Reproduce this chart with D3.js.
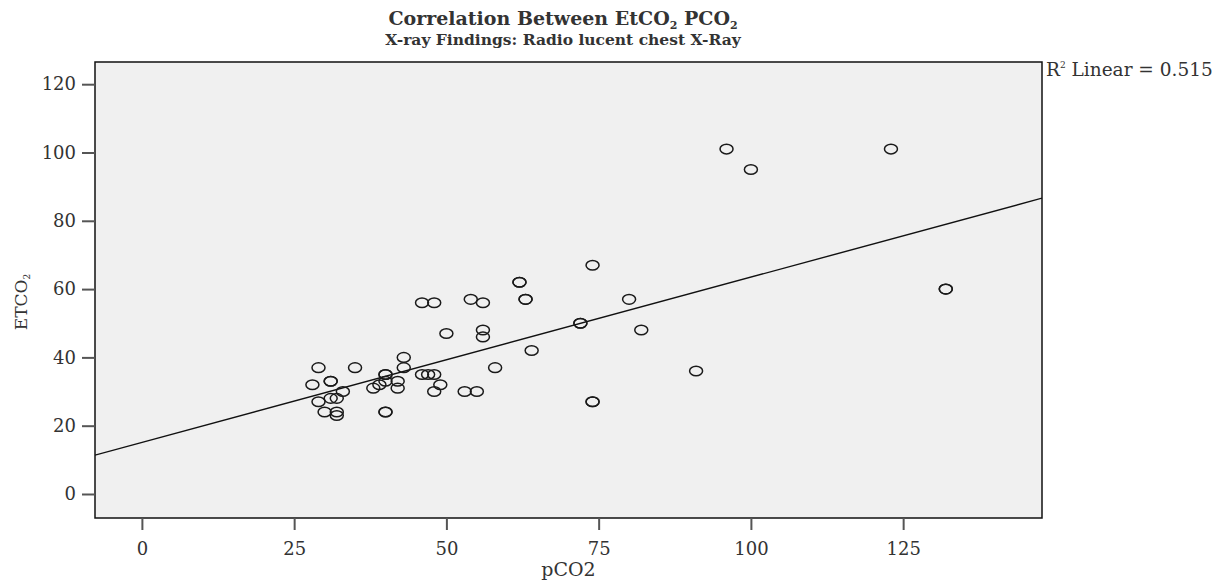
<!DOCTYPE html>
<html>
<head>
<meta charset="utf-8">
<script src="https://cdn.jsdelivr.net/npm/d3@7"></script>
<style>
  body { margin: 0; background: #fff; }
  svg text { font-family: "DejaVu Serif", "Liberation Serif", serif; fill: #333; }
</style>
</head>
<body>
<div id="chart"></div>
<script>
// values
const pco2 = [28, 29, 29, 30, 31, 31, 31, 32, 32, 32,
              33, 35, 38, 39, 40, 40, 40, 40, 40, 42,
              42, 43, 43, 46, 48, 46, 47, 48, 48, 49,
              50, 53, 55, 54, 56, 56, 56, 58, 62, 62,
              63, 63, 64, 72, 72, 74, 74, 74, 80, 82,
              91, 96, 100, 123, 132, 132];
const etco2 = [32, 37, 27, 24, 33, 33, 28, 28, 24, 23,
               30, 37, 31, 32, 33, 35, 35, 24, 24, 33,
               31, 40, 37, 56, 56, 35, 35, 35, 30, 32,
               47, 30, 30, 57, 56, 48, 46, 37, 62, 62,
               57, 57, 42, 50, 50, 67, 27, 27, 57, 48,
               36, 101, 95, 101, 60, 60];
const xTicks = [0, 25, 50, 75, 100, 125];
const yTicks = [0, 20, 40, 60, 80, 100, 120];
// fit line as drawn in the picture
const fitIntercept = 15.1;
const fitSlope = 0.484;
const rSquared = "0.515";

const width = 1228, height = 583;
const plot = {left: 95, right: 1042, top: 62, bottom: 518};

const svg = d3.select('#chart').append('svg')
  .attr('width', width)
  .attr('height', height);

const x = d3.scaleLinear().domain([-7.7, 147.8]).range([plot.left, plot.right]);
const y = d3.scaleLinear().domain([-7.03, 126.5]).range([plot.bottom, plot.top]);

// background
svg.append('rect')
  .attr('x', plot.left).attr('y', plot.top)
  .attr('width', plot.right - plot.left)
  .attr('height', plot.bottom - plot.top)
  .attr('fill', '#f0f0f0');

svg.append('clipPath').attr('id', 'clip')
  .append('rect')
  .attr('x', plot.left).attr('y', plot.top)
  .attr('width', plot.right - plot.left)
  .attr('height', plot.bottom - plot.top);

const fitX = x.domain();
svg.append('line')
  .attr('clip-path', 'url(#clip)')
  .attr('x1', x(fitX[0])).attr('y1', y(fitIntercept + fitSlope * fitX[0]))
  .attr('x2', x(fitX[1])).attr('y2', y(fitIntercept + fitSlope * fitX[1]))
  .attr('stroke', '#111')
  .attr('stroke-width', 1.4);

svg.append('g')
  .attr('clip-path', 'url(#clip)')
  .selectAll('ellipse')
  .data(pco2)
  .enter()
  .append('ellipse')
  .attr('cx', d => x(d))
  .attr('cy', (d, i) => y(etco2[i]))
  .attr('rx', 6.5)
  .attr('ry', 4.8)
  .attr('fill', 'none')
  .attr('stroke', '#1a1a1a')
  .attr('stroke-width', 1.5);

// frame
svg.append('rect')
  .attr('x', plot.left).attr('y', plot.top)
  .attr('width', plot.right - plot.left)
  .attr('height', plot.bottom - plot.top)
  .attr('fill', 'none')
  .attr('stroke', '#111')
  .attr('stroke-width', 1.5);

// axes
const yAxis = svg.append('g')
  .attr('transform', `translate(${plot.left},0)`)
  .call(d3.axisLeft(y).tickValues(yTicks).tickSize(13).tickPadding(6).tickFormat(d3.format('d')));
const xAxis = svg.append('g')
  .attr('transform', `translate(0,${plot.bottom})`)
  .call(d3.axisBottom(x).tickValues(xTicks).tickSize(12).tickPadding(12).tickFormat(d3.format('d')));

[yAxis, xAxis].forEach(a => {
  a.select('.domain').remove();
  a.selectAll('.tick line').attr('stroke', '#555').attr('stroke-width', 2);
  a.selectAll('.tick text').attr('font-size', 18).attr('fill', '#333')
    .attr('font-family', '"DejaVu Serif", serif');
});

// titles
const titleX = 563;
const title = svg.append('text')
  .attr('x', titleX)
  .attr('y', 25)
  .attr('text-anchor', 'middle')
  .attr('font-size', 19)
  .attr('font-weight', 'bold');
title.append('tspan').text('Correlation Between EtCO');
title.append('tspan').attr('font-size', 11).attr('dy', 4).text('2');
title.append('tspan').attr('dy', -4).text(' PCO');
title.append('tspan').attr('font-size', 11).attr('dy', 4).text('2');

svg.append('text')
  .attr('x', titleX)
  .attr('y', 45)
  .attr('text-anchor', 'middle')
  .attr('font-size', 15.5)
  .attr('font-weight', 'bold')
  .text('X-ray Findings: Radio lucent chest X-Ray');

svg.append('text')
  .attr('x', (plot.left + plot.right) / 2)
  .attr('y', 576)
  .attr('text-anchor', 'middle')
  .attr('font-size', 19)
  .text('pCO2');

const yTitle = svg.append('text')
  .attr('transform', `translate(27,${(plot.top + plot.bottom) / 2 + 12}) rotate(-90)`)
  .attr('text-anchor', 'middle')
  .attr('font-size', 17);
yTitle.append('tspan').text('ETCO');
yTitle.append('tspan').attr('font-size', 9).attr('dy', 3).text('2');

const r2 = svg.append('text')
  .attr('x', plot.right + 4)
  .attr('y', 76)
  .attr('font-size', 18.5);
r2.append('tspan').text('R');
r2.append('tspan').attr('font-size', 9).attr('dy', -8).text('2');
r2.append('tspan').attr('dy', 8).text(' Linear = ' + rSquared);
</script>
</body>
</html>
